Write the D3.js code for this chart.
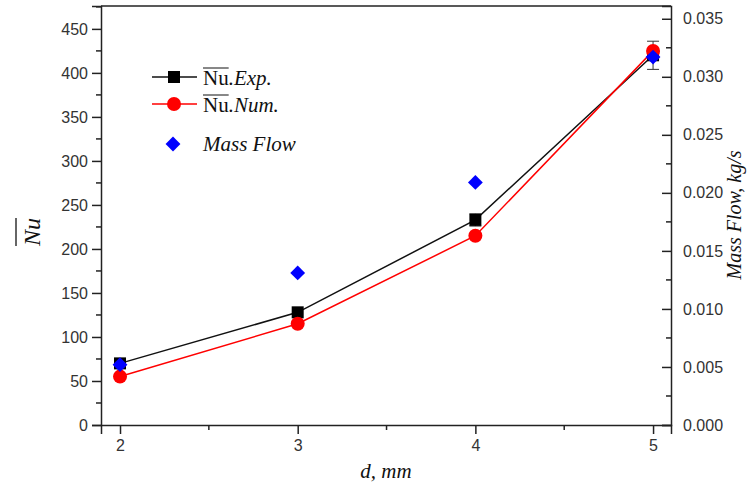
<!DOCTYPE html>
<html lang="en">
<head>
<meta charset="UTF-8">
<title>Nu vs d</title>
<script src="https://cdn.jsdelivr.net/npm/d3@7"></script>
<style>
  body { margin: 0; background: #fff; }
</style>
</head>
<body>
<script>
// data
var diam = [2, 3, 4, 5];
var nuExp = [70, 128, 233, 420];
var nuExpErr = [0, 0, 7, 16];
var nuNum = [55, 115, 215, 425];
var massFlow = [0.0052, 0.0131, 0.0209, 0.0317];

var width = 750, height = 490;
var padL = 101, padR = 671, padT = 6, padB = 425;

var svg = d3.select("body").append("svg")
    .attr("width", width).attr("height", height);

var x = d3.scaleLinear().domain([1.893, 5.101]).range([padL, padR]);
var y = d3.scaleLinear().domain([0, 476]).range([padB, padT]);
var y2 = d3.scaleLinear().domain([0, 0.0361]).range([padB, padT]);

// frame top line
svg.append("line").attr("x1", padL).attr("x2", padR).attr("y1", padT).attr("y2", padT)
    .attr("stroke", "#222").attr("stroke-width", 1.5);

// minor ticks
var gMinor = svg.append("g").attr("stroke", "#222").attr("stroke-width", 1.5);
[2.5, 3.5, 4.5].forEach(function (v) {
    gMinor.append("line").attr("x1", x(v)).attr("x2", x(v)).attr("y1", padB).attr("y2", padB + 5);
});
d3.range(25, 476, 50).forEach(function (v) {
    gMinor.append("line").attr("x1", padL).attr("x2", padL - 5).attr("y1", y(v)).attr("y2", y(v));
});
d3.range(0.0025, 0.036, 0.005).forEach(function (v) {
    gMinor.append("line").attr("x1", padR).attr("x2", padR - 5).attr("y1", y2(v)).attr("y2", y2(v));
});

var xAxis = svg.append("g").attr("transform", "translate(0," + padB + ")")
    .call(d3.axisBottom(x).tickValues(diam).tickFormat(d3.format("d")).tickSize(9).tickPadding(6));
var yAxis = svg.append("g").attr("transform", "translate(" + padL + ",0)")
    .call(d3.axisLeft(y).tickValues(d3.range(0, 451, 50)).tickSize(9).tickPadding(4));
var y2Axis = svg.append("g").attr("transform", "translate(" + padR + ",0)")
    .call(d3.axisRight(y2).tickValues(d3.range(0, 0.0351, 0.005)).tickFormat(d3.format(".3f"))
        .tickSize(-9).tickPadding(12));

[xAxis, yAxis, y2Axis].forEach(function (g) {
    g.select(".domain").attr("stroke", "#222").attr("stroke-width", 1.5);
    g.selectAll(".tick line").attr("stroke", "#222").attr("stroke-width", 1.5);
    g.selectAll(".tick text").style("font-family", "'Liberation Sans', Arial, sans-serif")
        .style("font-size", "16px").style("fill", "#333");
});

// lines
var lineXY = d3.line().x(function (d, i) { return x(diam[i]); }).y(function (d) { return y(d); });
svg.append("path").datum(nuExp).attr("d", lineXY)
    .attr("fill", "none").attr("stroke", "#111").attr("stroke-width", 1.5);
svg.append("path").datum(nuNum).attr("d", lineXY)
    .attr("fill", "none").attr("stroke", "#f00").attr("stroke-width", 1.5);

// error bars
nuExp.forEach(function (v, i) {
    if (!nuExpErr[i]) return;
    var cx = x(diam[i]), y0 = y(v - nuExpErr[i]), y1 = y(v + nuExpErr[i]);
    var g = svg.append("g").attr("stroke", "#333").attr("stroke-width", 1);
    g.append("line").attr("x1", cx).attr("x2", cx).attr("y1", y0).attr("y2", y1);
    g.append("line").attr("x1", cx - 6).attr("x2", cx + 6).attr("y1", y0).attr("y2", y0);
    g.append("line").attr("x1", cx - 6).attr("x2", cx + 6).attr("y1", y1).attr("y2", y1);
});

// markers
svg.selectAll(".sq").data(nuExp).enter().append("rect")
    .attr("x", function (d, i) { return x(diam[i]) - 6; })
    .attr("y", function (d) { return y(d) - 6; })
    .attr("width", 12).attr("height", 12).attr("fill", "#000");
svg.selectAll(".ci").data(nuNum).enter().append("circle")
    .attr("cx", function (d, i) { return x(diam[i]); })
    .attr("cy", function (d) { return y(d); })
    .attr("r", 7).attr("fill", "#f00");
var diamond = d3.symbol().type(d3.symbolDiamond2).size(140);
svg.selectAll(".di").data(massFlow).enter().append("path")
    .attr("d", diamond)
    .attr("transform", function (d, i) { return "translate(" + x(diam[i]) + "," + y2(d) + ")"; })
    .attr("fill", "#00f");

// legend
var serif = "'Liberation Serif', 'Times New Roman', serif";
function overText(g, tx, ty, main, rest) {
    var t = g.append("text").attr("x", tx).attr("y", ty)
        .attr("font-family", serif).attr("font-size", 21).attr("fill", "#111");
    var a = t.append("tspan").text(main);
    t.append("tspan").attr("font-style", "italic").text(rest);
    var w = a.node().getComputedTextLength();
    g.append("line").attr("x1", tx).attr("x2", tx + w).attr("y1", ty - 17).attr("y2", ty - 17)
        .attr("stroke", "#111").attr("stroke-width", 1);
}
var lg = svg.append("g");
lg.append("line").attr("x1", 152).attr("x2", 197).attr("y1", 77).attr("y2", 77).attr("stroke", "#111").attr("stroke-width", 1.5);
lg.append("rect").attr("x", 168).attr("y", 71).attr("width", 12).attr("height", 12).attr("fill", "#000");
overText(lg, 203, 85, "Nu", ".Exp.");
lg.append("line").attr("x1", 152).attr("x2", 197).attr("y1", 104).attr("y2", 104).attr("stroke", "#f00").attr("stroke-width", 1.5);
lg.append("circle").attr("cx", 174).attr("cy", 104).attr("r", 7).attr("fill", "#f00");
overText(lg, 203, 112, "Nu", ".Num.");
lg.append("path").attr("d", diamond).attr("transform", "translate(173,144)").attr("fill", "#00f");
lg.append("text").attr("x", 203).attr("y", 151).attr("font-family", serif).attr("font-style", "italic")
    .attr("font-size", 21).attr("fill", "#111").text("Mass Flow");

// axis titles
svg.append("text").attr("x", (padL + padR) / 2).attr("y", 478).attr("text-anchor", "middle")
    .attr("font-family", serif).attr("font-style", "italic").attr("font-size", 21).attr("fill", "#111")
    .text("d, mm");

var yl = svg.append("g").attr("transform", "translate(40,232) rotate(-90)");
var ylt = yl.append("text").attr("text-anchor", "middle").attr("font-family", serif)
    .attr("font-style", "italic").attr("font-size", 24).attr("fill", "#111").text("Nu");
var yw = ylt.node().getComputedTextLength();
yl.append("line").attr("x1", -yw / 2).attr("x2", yw / 2).attr("y1", -24).attr("y2", -24)
    .attr("stroke", "#333").attr("stroke-width", 1.5);

svg.append("text").attr("transform", "translate(741,215) rotate(-90)").attr("text-anchor", "middle")
    .attr("font-family", serif).attr("font-style", "italic").attr("font-size", 20).attr("fill", "#111")
    .text("Mass Flow, kg/s");
</script>
</body>
</html>
